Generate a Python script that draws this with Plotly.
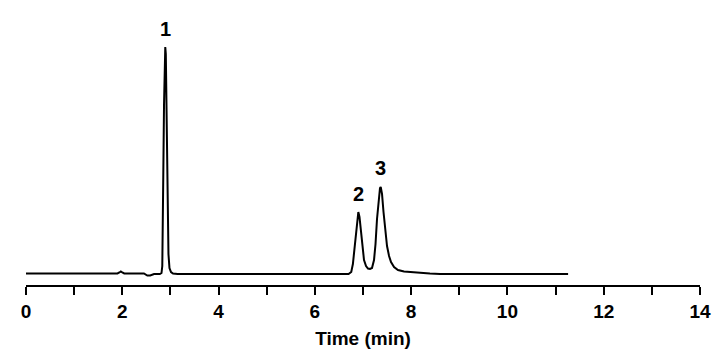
import plotly.graph_objects as go

# Chromatogram readings: time (min) and detector signal (arbitrary units)
time_min = [0.0, 1.90, 1.94, 1.97, 2.00, 2.04, 2.45, 2.49, 2.52, 2.58, 2.62, 2.66, 2.78,
            2.815, 2.831, 2.842, 2.852, 2.867, 2.883, 2.893, 2.904, 2.918, 2.934, 2.948,
            2.959, 2.98, 3.012, 3.054, 3.15,
            6.70, 6.756, 6.79, 6.823, 6.854, 6.881, 6.903, 6.927, 6.958, 6.99, 7.021,
            7.063, 7.104, 7.146, 7.187, 7.229, 7.26, 7.291, 7.322, 7.353, 7.368, 7.395,
            7.426, 7.457, 7.499, 7.541, 7.582, 7.645, 7.727, 7.852, 8.08, 8.39, 8.60, 11.26]
signal = [0.5, 0.5, 1.5, 2.5, 1.5, 0.5, 0.5, -1.0, -1.5, -1.5, -1.0, 0.0, 0.0,
          1, 8, 40, 100, 170, 215, 227, 220, 176, 110, 50,
          20, 6, 2, 0.5, 0,
          0, 2, 10, 25, 45, 58, 62, 57, 40, 25, 14,
          8, 5.5, 5, 6, 14, 30, 55, 75, 86, 87, 80,
          62, 45, 28, 18, 12, 7, 4, 2.5, 1.5, 0.5, 0, 0]

peak_labels = ["1", "2", "3"]
peak_label_x = [2.9, 6.9, 7.37]
peak_label_y = [245.5, 80, 106]

x_tick_vals = [0, 2, 4, 6, 8, 10, 12, 14]
x_title = "Time (min)"

font_family = "Liberation Sans, Arial, sans-serif"

fig = go.Figure()
fig.add_trace(go.Scatter(x=time_min, y=signal, mode="lines",
                         line=dict(color="black", width=2), hoverinfo="skip",
                         showlegend=False))

for t, x, y in zip(peak_labels, peak_label_x, peak_label_y):
    fig.add_annotation(x=x, y=y, text="<b>" + t + "</b>", showarrow=False,
                       font=dict(family=font_family, size=20, color="black"))

fig.update_layout(
    width=728, height=357,
    margin=dict(l=18, r=36, t=7, b=80),
    paper_bgcolor="white", plot_bgcolor="white",
    xaxis=dict(range=[0, 14], tickvals=x_tick_vals,
               ticktext=["<b>%d</b>" % v for v in x_tick_vals],
               showline=True, linecolor="black", linewidth=2,
               ticks="outside", ticklen=8, tickwidth=2, tickcolor="black",
               minor=dict(dtick=1, ticks="outside", ticklen=8, tickwidth=2, tickcolor="black"),
               showgrid=False, zeroline=False,
               tickfont=dict(family=font_family, size=19, color="black"),
               title=dict(text="<b>" + x_title + "</b>", standoff=11,
                          font=dict(family=font_family, size=19, color="black"))),
    yaxis=dict(range=[-11, 259], visible=False, showgrid=False, zeroline=False),
)

fig.write_html("out.html")
